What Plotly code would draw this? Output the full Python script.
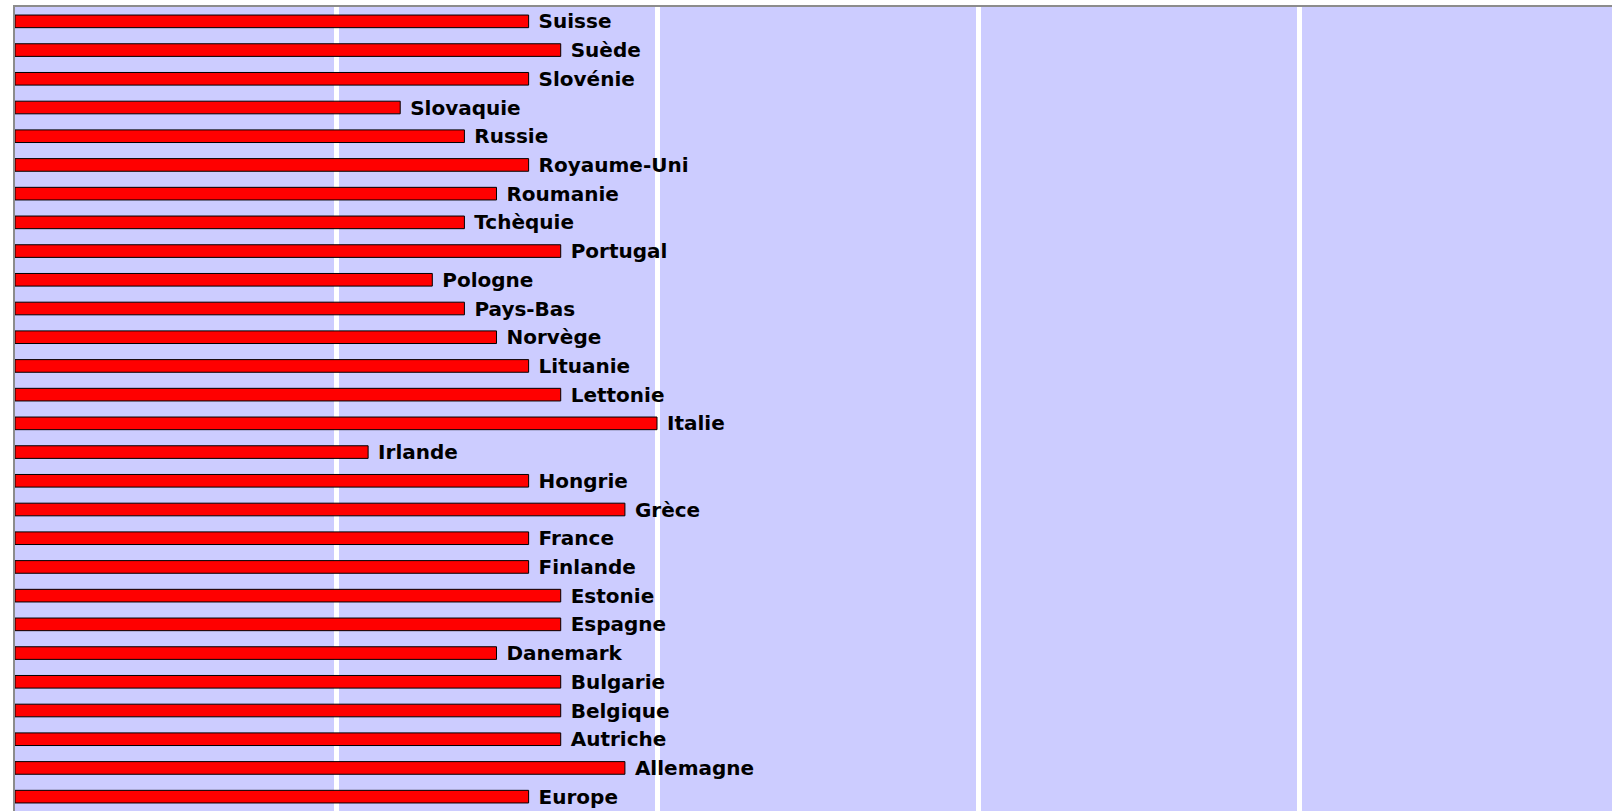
import plotly.graph_objects as go

countries = ["Suisse", "Suède", "Slovénie", "Slovaquie", "Russie", "Royaume-Uni",
             "Roumanie", "Tchèquie", "Portugal", "Pologne", "Pays-Bas", "Norvège",
             "Lituanie", "Lettonie", "Italie", "Irlande", "Hongrie", "Grèce",
             "France", "Finlande", "Estonie", "Espagne", "Danemark", "Bulgarie",
             "Belgique", "Autriche", "Allemagne", "Europe"]
values = [1.6, 1.7, 1.6, 1.2, 1.4, 1.6,
          1.5, 1.4, 1.7, 1.3, 1.4, 1.5,
          1.6, 1.7, 2.0, 1.1, 1.6, 1.9,
          1.6, 1.6, 1.7, 1.7, 1.5, 1.7,
          1.7, 1.7, 1.9, 1.6]

fig = go.Figure(go.Bar(
    x=values, y=countries, orientation="h",
    marker=dict(color="#FF0000", line=dict(color="#000000", width=1)),
    text=["\u00a0" + c for c in countries],
    textposition="outside", cliponaxis=False, constraintext="none",
    textfont=dict(family="DejaVu Sans, sans-serif", size=20, color="#000000",
                  weight="bold"),
    hoverinfo="skip",
))

fig.update_layout(
    width=1612, height=811,
    margin=dict(l=15, r=0, t=7, b=0),
    paper_bgcolor="#FFFFFF", plot_bgcolor="#CCCCFF",
    bargap=0.56, showlegend=False,
    xaxis=dict(range=[0, 4.975], dtick=1, showgrid=True, gridcolor="#FFFFFF",
               gridwidth=5, zeroline=False, showticklabels=False, ticks="",
               side="top", showline=True, linecolor="#8C8C8C", linewidth=2),
    yaxis=dict(autorange="reversed", showticklabels=False, ticks="", showgrid=False,
               showline=True, linecolor="#8C8C8C", linewidth=2, zeroline=False),
)

fig.write_html("out.html", config={"displayModeBar": False},
               post_script="document.body.style.margin='0';document.body.style.overflow='hidden';")
